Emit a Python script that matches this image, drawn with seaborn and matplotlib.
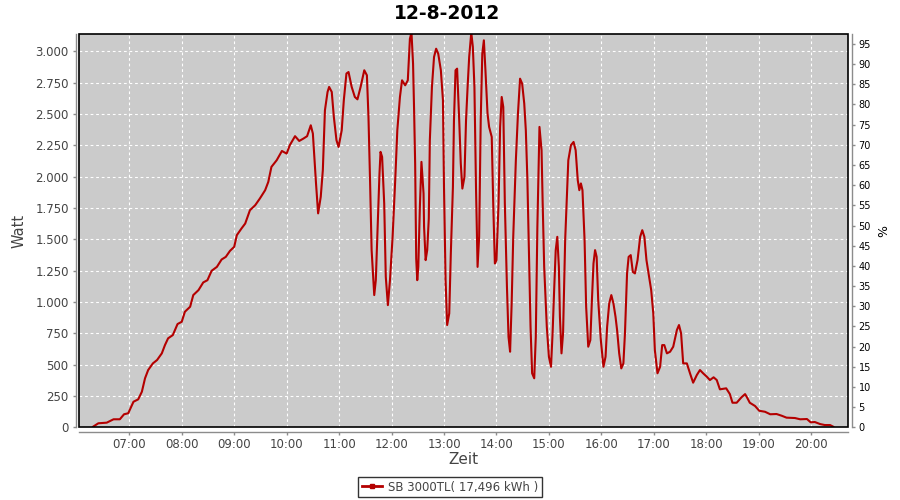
import numpy as np
import pandas as pd
import matplotlib
matplotlib.use("Agg")
import matplotlib.pyplot as plt
import seaborn as sns
from matplotlib.ticker import FuncFormatter
from matplotlib.lines import Line2D
from matplotlib.patches import Rectangle

# Tagesverlauf 12-8-2012, Zeit in Stunden (dezimal), Leistung in Watt
hours = [
    6.31, 6.41, 6.57, 6.70, 6.82, 6.90, 6.98, 7.08, 7.17, 7.24, 7.30, 7.36, 7.45, 7.53,
    7.62, 7.68, 7.74, 7.83, 7.92, 8.00, 8.06, 8.16, 8.22, 8.32, 8.41, 8.49, 8.57, 8.67,
    8.76, 8.84, 8.92, 9.00, 9.05, 9.14, 9.21, 9.30, 9.40, 9.49, 9.59, 9.65, 9.71, 9.81,
    9.91, 10.00, 10.06, 10.16, 10.24, 10.32, 10.39, 10.46, 10.50, 10.52, 10.56, 10.60,
    10.65, 10.69, 10.73, 10.78, 10.81, 10.86, 10.90, 10.95, 10.99, 11.05, 11.09, 11.14,
    11.18, 11.24, 11.30, 11.35, 11.41, 11.48, 11.53, 11.56, 11.59, 11.62, 11.67, 11.70,
    11.74, 11.77, 11.79, 11.82, 11.86, 11.89, 11.93, 11.97, 12.02, 12.07, 12.11, 12.16,
    12.20, 12.26, 12.31, 12.35, 12.38, 12.41, 12.43, 12.45, 12.47, 12.49, 12.51, 12.54,
    12.57, 12.61, 12.62, 12.65, 12.68, 12.71, 12.73, 12.77, 12.81, 12.85, 12.89, 12.94,
    12.98, 13.00, 13.03, 13.06, 13.10, 13.13, 13.17, 13.19, 13.22, 13.25, 13.29, 13.32,
    13.35, 13.39, 13.42, 13.45, 13.48, 13.52, 13.55, 13.58, 13.61, 13.64, 13.67, 13.70,
    13.73, 13.76, 13.79, 13.83, 13.86, 13.91, 13.94, 13.97, 14.00, 14.04, 14.07, 14.10,
    14.13, 14.16, 14.20, 14.23, 14.26, 14.29, 14.32, 14.37, 14.41, 14.45, 14.49, 14.53,
    14.56, 14.59, 14.62, 14.65, 14.68, 14.72, 14.75, 14.78, 14.82, 14.86, 14.88, 14.91,
    14.96, 15.00, 15.04, 15.07, 15.10, 15.13, 15.16, 15.19, 15.21, 15.24, 15.27, 15.31,
    15.34, 15.37, 15.42, 15.47, 15.51, 15.55, 15.58, 15.61, 15.64, 15.68, 15.71, 15.75,
    15.79, 15.82, 15.85, 15.88, 15.91, 15.94, 15.99, 16.04, 16.08, 16.11, 16.15, 16.19,
    16.23, 16.27, 16.30, 16.34, 16.38, 16.42, 16.45, 16.49, 16.52, 16.56, 16.60, 16.64,
    16.69, 16.74, 16.78, 16.82, 16.86, 16.91, 16.95, 16.99, 17.02, 17.07, 17.12, 17.16,
    17.20, 17.25, 17.31, 17.37, 17.44, 17.48, 17.52, 17.56, 17.63, 17.69, 17.75, 17.82,
    17.88, 17.94, 18.01, 18.07, 18.14, 18.20, 18.26, 18.38, 18.45, 18.50, 18.58, 18.67,
    18.74, 18.77, 18.83, 18.93, 19.01, 19.12, 19.22, 19.34, 19.44, 19.53, 19.69, 19.79,
    19.92, 19.99, 20.07, 20.17, 20.26, 20.36, 20.42,
]
watts = [
    5, 32, 37, 64, 64, 104, 112, 204, 223, 284, 391, 457, 510, 537,
    590, 656, 710, 736, 824, 842, 922, 962, 1055, 1095, 1156, 1174, 1249, 1280,
    1339, 1360, 1408, 1440, 1533, 1587, 1626, 1732, 1772, 1826, 1892, 1958, 2078, 2131,
    2205, 2184, 2251, 2323, 2285, 2304, 2323, 2410, 2344, 2211, 1946, 1707,
    1839, 2052, 2530, 2676, 2716, 2676, 2476, 2291, 2237, 2370, 2610, 2823,
    2835, 2716, 2636, 2617, 2716, 2849, 2809, 2476, 1972, 1414, 1055, 1174,
    1653, 2025, 2198, 2158, 1786, 1201, 975, 1174, 1520, 1972, 2371, 2636,
    2769, 2729, 2769, 3100, 3150, 2902, 2530, 2105, 1347, 1174, 1280, 1759,
    2118, 1866, 1599, 1334, 1414, 1666, 2290, 2716, 2955, 3021, 2981, 2849,
    2610, 1918, 1174, 816, 909, 1387, 1918, 2450, 2849, 2862, 2450, 2105,
    1905, 1998, 2450, 2716, 2955, 3150, 3035, 2716, 1918, 1280, 1520, 2450,
    2981, 3088, 2849, 2503, 2397, 2317, 1759, 1307, 1334, 1786, 2397, 2636,
    2556, 1786, 1121, 722, 603, 989, 1520, 2131, 2503, 2782, 2742, 2583,
    2370, 1972, 1387, 802, 431, 391, 722, 1599, 2397, 2211, 1812, 1280,
    802, 563, 483, 750, 1095, 1414, 1520, 1280, 882, 590, 750, 1493,
    1812, 2131, 2251, 2277, 2211, 1972, 1892, 1946, 1892, 1493, 962, 643,
    696, 1015, 1307, 1414, 1360, 1015, 696, 483, 563, 802, 989, 1055,
    989, 882, 776, 590, 470, 510, 750, 1228, 1360, 1374, 1240, 1228,
    1334, 1520, 1573, 1520, 1334, 1201, 1095, 909, 616, 431, 483, 656,
    656, 590, 603, 643, 776, 816, 750, 510, 510, 431, 356, 417,
    457, 431, 404, 377, 399, 377, 303, 311, 265, 196, 196, 239,
    265, 244, 196, 170, 132, 124, 104, 106, 92, 77, 74, 64,
    66, 40, 42, 26, 18, 18, 5,
]

hour_ticks = list(range(7, 21))
watt_ticks = list(range(0, 3001, 250))
pct_ticks = list(range(0, 96, 5))
p_ref = 3220          # Watt, die 100 % entsprechen
title = "12-8-2012"
legend_label = "SB 3000TL( 17,496 kWh )"

LINE = "#B40000"
BG = "#CBCBCB"
TXT = "#444444"
AXC = "#8C8C8C"

df = pd.DataFrame({"Zeit": hours, "Watt": watts})

fig = plt.figure(figsize=(9, 5), dpi=100)
ax = fig.add_axes([79.3 / 900, 1 - 427.3 / 500, 769 / 900, 393 / 500])
ax.set_facecolor(BG)

sns.lineplot(data=df, x="Zeit", y="Watt", ax=ax, color=LINE, linewidth=1.5, legend=False)

ymax = 3136
ax.set_xlim(6.047, 20.708)
ax.set_ylim(0, ymax)
ax.set_xticks(hour_ticks)
ax.set_yticks(watt_ticks)
ax.xaxis.set_major_formatter(FuncFormatter(lambda v, p: f"{int(round(v)):02d}:00"))
ax.yaxis.set_major_formatter(FuncFormatter(lambda v, p: f"{int(v):,}".replace(",", ".")))

ax.set_axisbelow(True)
ax.grid(True, color="white", linestyle=(0, (2.5, 2.5)), linewidth=0.8)

for s in ["top", "right"]:
    ax.spines[s].set_visible(False)
for s in ["left", "bottom"]:
    ax.spines[s].set_color(AXC)
    ax.spines[s].set_linewidth(1.0)
ax.spines["left"].set_position(("outward", 2.6))
ax.spines["bottom"].set_position(("outward", 3.2))
ax.tick_params(axis="both", colors=AXC, length=2.5, width=1.0, labelsize=8.5,
               labelcolor=TXT, pad=2.5)
ax.tick_params(axis="x", pad=1.8)

ax.set_xlabel("Zeit", fontsize=11, color=TXT)
ax.set_ylabel("Watt", fontsize=10.5, color=TXT)
ax.xaxis.set_label_coords(0.5, -0.062)
ax.yaxis.set_label_coords(-0.069, 0.5)

# rechte Achse in Prozent
ax2 = ax.twinx()
ax2.set_ylim(0, ymax / p_ref * 100)
ax2.set_yticks(pct_ticks)
for s in ["top", "left", "bottom"]:
    ax2.spines[s].set_visible(False)
ax2.spines["right"].set_color(AXC)
ax2.spines["right"].set_linewidth(1.0)
ax2.spines["right"].set_position(("outward", 2.9))
ax2.tick_params(axis="y", colors=AXC, length=2.5, width=1.0, labelsize=7,
                labelcolor="black", pad=2)
ax2.set_ylabel("%", fontsize=9, color="black")
ax2.yaxis.set_label_coords(1.037, 0.5)

# schwarzer Rahmen um die Plotfläche
ax2.add_patch(Rectangle((0, 0), 1, 1, transform=ax.transAxes, fill=False,
                        edgecolor="black", linewidth=1.2, clip_on=False, zorder=10))

fig.text(0.497, 1 - 19 / 500, title, ha="center", va="baseline",
         fontsize=13.5, fontweight="bold", color="black")

handle = Line2D([], [], color=LINE, linewidth=2, marker="s", markersize=2.5)
leg = fig.legend([handle], [legend_label], loc="center",
                 bbox_to_anchor=(0.5, 1 - 487 / 500), fontsize=8.5,
                 frameon=True, fancybox=False, handlelength=1.7,
                 handletextpad=0.5, borderpad=0.3, borderaxespad=0)
leg.get_frame().set_edgecolor("black")
leg.get_frame().set_linewidth(1.0)
for t in leg.get_texts():
    t.set_color(TXT)

fig.savefig("out.png", dpi=100)
